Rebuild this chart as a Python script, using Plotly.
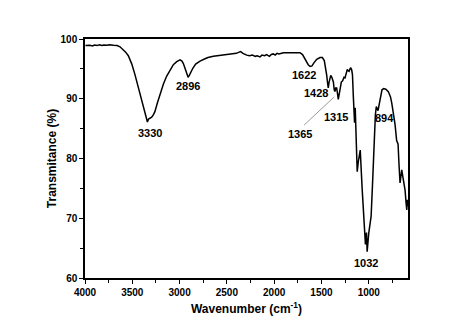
import plotly.graph_objects as go

wavenumber = [3995, 3950, 3920, 3900, 3870, 3850, 3820, 3800, 3770, 3740, 3700, 3660, 3630, 3600,
              3570, 3542, 3505, 3471, 3445, 3418, 3390, 3366, 3350, 3340, 3328, 3312, 3295, 3278,
              3262, 3235, 3207, 3170, 3136, 3100, 3066, 3030, 2995, 2975, 2960, 2940, 2922, 2910,
              2897, 2880, 2860, 2830, 2784, 2731, 2700, 2643, 2600, 2550, 2500, 2450, 2400, 2370,
              2355, 2330, 2310, 2290, 2260, 2230, 2200, 2180, 2150, 2130, 2100, 2080, 2050, 2030,
              2009, 1990, 1970, 1950, 1900, 1850, 1800, 1760, 1727, 1700, 1680, 1660, 1640, 1620,
              1600, 1580, 1550, 1515, 1490, 1470, 1455, 1445, 1435, 1428, 1420, 1410, 1402, 1390,
              1380, 1374, 1365, 1357, 1350, 1339, 1330, 1322, 1314, 1304, 1290, 1276, 1262, 1251,
              1240, 1227, 1218, 1208, 1198, 1190, 1180, 1172, 1163, 1155, 1150, 1143, 1135, 1122,
              1110, 1090, 1070, 1045, 1035, 1024, 1017, 1000, 975, 962, 947, 937, 930, 920, 910,
              902, 890, 875, 860, 842, 820, 793, 770, 757, 740, 722, 705, 690, 680, 669, 660, 651,
              635, 616, 605, 598, 592, 586]
transmittance = [98.9, 98.95, 98.85, 99.0, 98.9, 99.05, 98.9, 99.0, 98.95, 99.05, 98.95, 98.9, 98.7, 98.3,
                 97.8, 97.2, 95.8, 94.0, 92.4, 90.7, 89.0, 87.6, 86.6, 86.1, 86.6, 86.7, 86.9, 87.3,
                 87.8, 89.3, 90.8, 92.5, 93.8, 94.9, 95.7, 96.2, 96.5, 96.3, 95.9, 95.0, 94.0, 93.6,
                 93.9, 94.6, 95.1, 95.8, 96.3, 96.7, 96.9, 97.1, 97.2, 97.3, 97.4, 97.5, 97.6, 97.8,
                 97.9, 97.6, 97.4, 97.3, 97.2, 97.3, 97.1, 97.2, 97.0, 97.3, 97.2, 97.4, 97.1, 97.4,
                 97.5, 97.3, 97.6, 97.5, 97.7, 97.7, 97.8, 97.8, 97.7, 97.4, 96.8, 96.2, 95.7, 95.4,
                 95.5, 96.0, 96.6, 96.9, 96.9, 96.4, 95.1, 94.0, 92.6, 91.8, 92.7, 93.7, 93.9, 93.6,
                 93.0, 92.8, 91.5, 91.2, 91.8, 91.8, 90.8, 89.9, 90.6, 91.8, 92.8, 93.0, 93.6, 93.5,
                 94.1, 94.9, 94.7, 94.6, 95.0, 95.2, 94.8, 94.0, 90.4, 87.0, 86.0, 88.5, 84.0, 77.8,
                 79.5, 81.4, 75.0, 68.6, 65.6, 67.6, 64.4, 67.5, 70.3, 75.0, 80.9, 85.3, 87.3, 88.7,
                 88.4, 88.0, 89.0, 90.7, 91.5, 91.7, 91.6, 91.2, 90.3, 89.3, 87.5, 85.7, 83.0, 82.4,
                 79.0, 75.9, 77.0, 78.1, 76.5, 74.7, 72.5, 71.4, 73.1, 72.0]

peak_labels = ["3330", "2896", "1622", "1428", "1315", "1365", "894", "1032"]
label_x = [3313, 2908, 1683, 1563, 1347, 1727, 838, 1032]
label_y = [84.3, 92.2, 93.9, 90.9, 87.0, 84.1, 86.8, 62.5]

x_ticks = [4000, 3500, 3000, 2500, 2000, 1500, 1000]
y_ticks = [60, 70, 80, 90, 100]

FONT = "Arial, Liberation Sans, sans-serif"

fig = go.Figure()
fig.add_trace(go.Scatter(x=wavenumber, y=transmittance, mode="lines",
                         line=dict(color="black", width=1.5), showlegend=False))

for t, lx, ly in zip(peak_labels, label_x, label_y):
    fig.add_annotation(x=lx, y=ly, text=t, showarrow=False,
                       font=dict(family=FONT, size=11, color="black", weight="bold"))

fig.add_shape(type="line", x0=1683, y0=85.6, x1=1366, y1=90.3,
              line=dict(color="#808080", width=0.8))

fig.update_layout(
    width=474, height=334,
    margin=dict(l=85, r=66, t=39, b=56),
    paper_bgcolor="white", plot_bgcolor="white",
    font=dict(family=FONT, color="black"),
)
fig.update_xaxes(
    range=[4000, 585], tickvals=x_ticks, ticks="outside", ticklen=4, tickwidth=1.2,
    tickcolor="black", showline=True, mirror=True, linecolor="black", linewidth=1.5,
    showgrid=False, zeroline=False,
    tickfont=dict(family=FONT, size=10, weight="bold"),
    minor=dict(dtick=250, ticks="outside", ticklen=3, tickcolor="black", tickwidth=1, showgrid=False),
    title=dict(text="Wavenumber (cm<sup>-1</sup>)", font=dict(family=FONT, size=12, weight="bold"), standoff=8),
)
fig.update_yaxes(
    range=[60, 100], tickvals=y_ticks, ticks="outside", ticklen=4, tickwidth=1.2,
    tickcolor="black", showline=True, mirror=True, linecolor="black", linewidth=1.5,
    showgrid=False, zeroline=False,
    tickfont=dict(family=FONT, size=10, weight="bold"),
    minor=dict(dtick=5, ticks="outside", ticklen=3, tickcolor="black", tickwidth=1, showgrid=False),
    title=dict(text="Transmitance (%)", font=dict(family=FONT, size=12, weight="bold"), standoff=1),
)

fig.write_html("out.html")
